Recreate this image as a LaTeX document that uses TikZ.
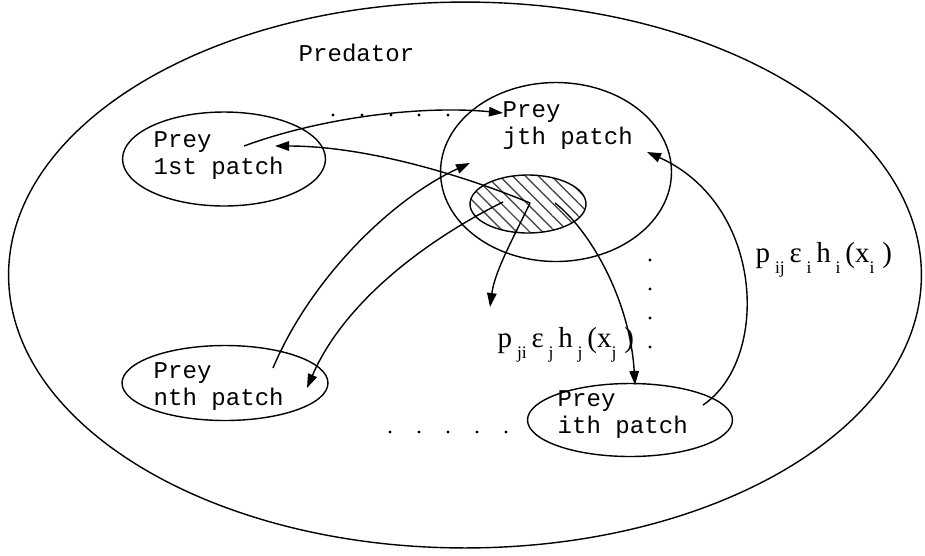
\documentclass[tikz,border=0pt]{standalone}
\usepackage{fontspec}
\setmainfont{Liberation Serif}
\setmonofont{Liberation Mono}
\usetikzlibrary{shapes.geometric, arrows.meta, patterns.meta}

% lowered index, as in p_ij
\newcommand{\low}[1]{\raisebox{-0.38em}{\fontsize{10}{10}\selectfont #1}}

\begin{document}
\begin{tikzpicture}[x=0.02cm, y=-0.02cm, line width=0.8pt,
    >={Triangle[length=0.28cm, width=0.19cm]},
    patch/.style={draw, ellipse, inner sep=0pt},
    prey/.style={anchor=west, align=left, inner sep=0pt,
        font=\ttfamily\fontsize{13.7}{15.4}\selectfont},
    rate/.style={anchor=base west, inner sep=0pt,
        font=\fontsize{16.5}{18}\selectfont}]
    \useasboundingbox (0,0) rectangle (925,555);

    % Predator
    \node[patch, minimum width=18.26cm, minimum height=10.92cm] (predator) at (465,275) {};
    \node[anchor=base west, inner sep=0pt, font=\ttfamily\fontsize{13.7}{15.4}\selectfont] (predlabel) at (298,61) {Predator};

    % Patches
    \node[patch, minimum width=4.06cm, minimum height=1.88cm] (p1) at (224,159) {};
    \node[patch, minimum width=4.62cm, minimum height=3.58cm] (pj) at (556,172) {};
    \node[patch, minimum width=4.12cm, minimum height=1.50cm] (pn) at (225,383) {};
    \node[patch, minimum width=4.10cm, minimum height=1.46cm] (pi) at (630,420) {};
    % hatched part of patch j
    \node[patch, minimum width=2.32cm, minimum height=1.16cm,
        pattern={Lines[angle=-45, distance=5.2pt, line width=0.8pt]}, pattern color=black!70] (hatch) at (528,204) {};

    \node[prey] (t1) at (153,156) {Prey\\1st patch};
    \node[prey] (tj) at (502,126) {Prey\\jth patch};
    \node[prey] (tn) at (153,387) {Prey\\nth patch};
    \node[prey] (ti) at (557,415) {Prey\\ith patch};

    % arrow ends
    \coordinate (out1) at (244,146);
    \coordinate (inj) at (503,113);
    \coordinate (h1) at (530,203);
    \coordinate (in1) at (275,146);
    \coordinate (outn) at (273,368);
    \coordinate (injn) at (470,163);
    \coordinate (h2) at (503,202);
    \coordinate (inn) at (307,388);
    \coordinate (free) at (490,307);
    \coordinate (h3) at (555,203);
    \coordinate (ini) at (635,385);
    \coordinate (outi) at (703,405);
    \coordinate (inji) at (647,152);

    % Flechas
    \draw[->] (out1) .. controls (320,118) and (420,105) .. (inj);
    \draw[->] (h1) .. controls (470,178) and (370,146) .. (in1);
    \draw[->] (outn) .. controls (310,280) and (390,200) .. (injn);
    \draw[->] (h2) .. controls (430,238) and (345,300) .. (inn);
    \draw[->] (h1) .. controls (515,235) and (495,270) .. (free);
    \draw[->] (h3) .. controls (590,230) and (630,300) .. (ini);
    \draw[->] (outi) .. controls (770,360) and (765,205) .. (inji);

    % Puntos
    \foreach \x in {333,362,391,419,448} \fill (\x,115) circle (1.6);
    \foreach \y in {260,289,318,347} \fill (650,\y) circle (1.6);
    \foreach \x in {390,419,448,477,506} \fill (\x,432) circle (1.6);

    % Tasas
    \node[rate] (rij) at (755,262) {p\,\low{ij}\,ε\,\low{i}\,h\,\low{i}\,(x\low{i}\;)};
    \node[rate] (rji) at (497,347) {p\,\low{ji}\,ε\,\low{j}\,h\,\low{j}\,(x\low{j}\;)};
\end{tikzpicture}
\end{document}
